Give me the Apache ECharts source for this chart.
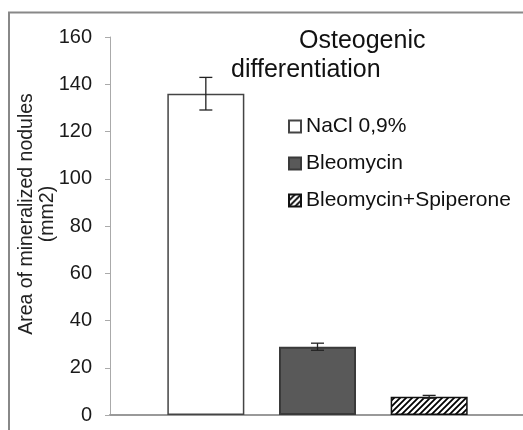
<!DOCTYPE html>
<html><head><meta charset="utf-8">
<script src="https://cdn.jsdelivr.net/npm/echarts@6/dist/echarts.min.js"></script>
<style>html,body{margin:0;padding:0;background:#fff}#c{width:523px;height:430px}</style>
</head><body><div id="c"></div>
<script>
const categories = ['NaCl 0,9%', 'Bleomycin', 'Bleomycin+Spiperone'];
const values = [136, 28.9, 7.7];
const errors = [6.9, 1.5, 0.6];
const yMin = 0, yMax = 160, yStep = 20;
const titleLines = ['Osteogenic', 'differentiation'];
const yTitleLines = ['Area of mineralized nodules', '(mm2)'];

const FONT = '"Liberation Sans", Arial, sans-serif';

// hatch pattern
const pc = document.createElement('canvas');
pc.width = 6; pc.height = 6;
const g = pc.getContext('2d');
g.fillStyle = '#fff'; g.fillRect(0, 0, 6, 6);
g.strokeStyle = '#000'; g.lineWidth = 1.8;
g.beginPath();
g.moveTo(-1, 7); g.lineTo(7, -1);
g.moveTo(-1, 1); g.lineTo(1, -1);
g.moveTo(5, 7); g.lineTo(7, 5);
g.stroke();

const styles = [
  { color: '#ffffff', borderColor: '#444', borderWidth: 1.5 },
  { color: '#595959', borderColor: '#3a3a3a', borderWidth: 2 },
  { color: { image: pc, repeat: 'repeat' }, borderColor: '#111', borderWidth: 1.5 }
];

const barSeries = categories.map((name, i) => ({
  name: name,
  type: 'bar',
  xAxisIndex: 1, yAxisIndex: 1,
  barWidth: 77,
  barGap: '-100%',
  itemStyle: styles[i],
  data: categories.map((c, j) => j === i ? values[i] : '-'),
  z: 2
}));

const errSeries = {
  type: 'custom',
  xAxisIndex: 1, yAxisIndex: 1,
  z: 5,
  data: categories.map((c, i) => [i, values[i] - errors[i], values[i] + errors[i]]),
  renderItem: function (params, api) {
    const hi = api.coord([api.value(0), api.value(2)]);
    const lo = api.coord([api.value(0), api.value(1)]);
    const w = 6.5;
    const st = { stroke: '#222', lineWidth: 1.3 };
    return {
      type: 'group',
      children: [
        { type: 'line', shape: { x1: hi[0], y1: hi[1], x2: lo[0], y2: lo[1] }, style: st },
        { type: 'line', shape: { x1: hi[0] - w, y1: hi[1], x2: hi[0] + w, y2: hi[1] }, style: st },
        { type: 'line', shape: { x1: lo[0] - w, y1: lo[1], x2: lo[0] + w, y2: lo[1] }, style: st }
      ]
    };
  }
};

const chart = echarts.init(document.getElementById('c'));
chart.setOption({
  animation: false,
  backgroundColor: '#fff',
  textStyle: { fontFamily: FONT },
  title: [
    { text: titleLines[0], left: 294, top: 24, textStyle: { fontSize: 25, fontWeight: 'normal', color: '#111', fontFamily: FONT } },
    { text: titleLines[1], left: 226, top: 53, textStyle: { fontSize: 25, fontWeight: 'normal', color: '#111', fontFamily: FONT } }
  ],
  legend: {
    data: categories,
    orient: 'vertical',
    left: 283, top: 111,
    icon: 'rect',
    itemWidth: 12, itemHeight: 12,
    itemGap: 16,
    textStyle: { fontSize: 21, color: '#111', lineHeight: 21, fontFamily: FONT }
  },
  grid: [
    { left: 110, right: 0, top: 37, bottom: 15 },
    { left: 150, right: 38, top: 37, bottom: 15 }
  ],
  xAxis: [
    { type: 'category', gridIndex: 0, data: [''],
      axisLine: { lineStyle: { color: '#999', width: 2 } },
      axisTick: { show: false }, axisLabel: { show: false } },
    { type: 'category', gridIndex: 1, data: categories, show: false }
  ],
  yAxis: [
    { type: 'value', gridIndex: 0, min: yMin, max: yMax, interval: yStep,
      axisLine: { show: true, lineStyle: { color: '#aaa', width: 1 } },
      axisTick: { show: true, length: 5, lineStyle: { color: '#aaa' } },
      splitLine: { show: false },
      axisLabel: { fontSize: 20, margin: 18, color: '#1a1a1a', fontFamily: FONT } },
    { type: 'value', gridIndex: 1, min: yMin, max: yMax, interval: yStep, show: false }
  ],
  graphic: [
    { type: 'rect', silent: true, z: -10,
      shape: { x: 9, y: 12.5, width: 600, height: 600 },
      style: { fill: 'none', stroke: '#888', lineWidth: 2 } },
    { type: 'text', x: 27, y: 214, rotation: Math.PI / 2,
      style: { text: yTitleLines[0], font: '19.5px ' + FONT, textAlign: 'center', textVerticalAlign: 'middle', fill: '#222' } },
    { type: 'text', x: 48, y: 214, rotation: Math.PI / 2,
      style: { text: yTitleLines[1], font: '19.5px ' + FONT, textAlign: 'center', textVerticalAlign: 'middle', fill: '#222' } }
  ],
  series: barSeries.concat([errSeries])
});
</script>
</body></html>
